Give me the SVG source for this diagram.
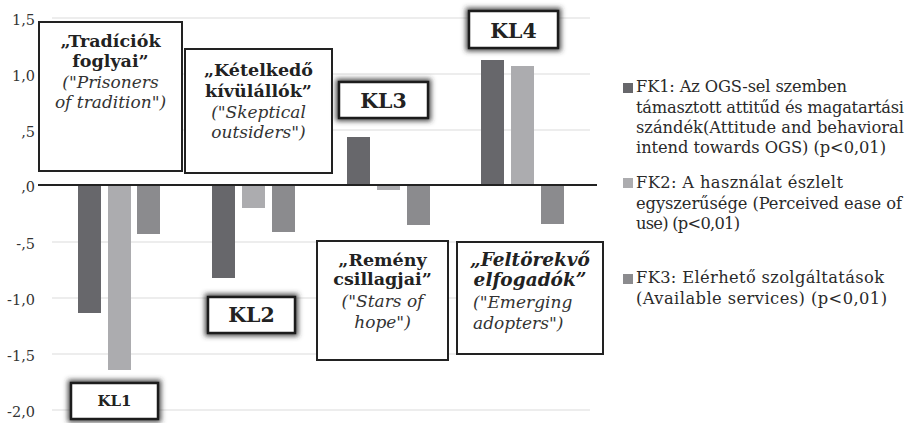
<svg xmlns="http://www.w3.org/2000/svg" width="912" height="423" viewBox="0 0 912 423">
<defs>
<style>
text{font-family:"DejaVu Serif","Liberation Serif",serif;fill:#222}
.ax{font-size:14.5px;text-anchor:end;fill:#333}
.grid{stroke:#dcdcdc;stroke-width:1.2}
.f1{fill:#67676b}.f2{fill:#acacaf}.f3{fill:#8b8b8e}
.box{fill:#fff;stroke:#222;stroke-width:2}
.kl{fill:#fff;stroke:#1a1a1a;stroke-width:2.5}
.b{font-size:17.5px;font-weight:bold;text-anchor:middle}
.bi{font-size:18.5px;font-weight:bold;font-style:italic;text-anchor:middle}
.i{font-size:17px;font-style:italic;text-anchor:middle;fill:#333}
.il{font-size:17px;font-style:italic;fill:#333}
.kt{font-size:20.5px;font-weight:bold;text-anchor:middle}
.lg{font-size:16.3px;fill:#2a2a2a}
</style>
<filter id="glow" x="-30%" y="-60%" width="160%" height="220%">
<feMorphology in="SourceAlpha" operator="dilate" radius="2" result="d"/>
<feGaussianBlur in="d" stdDeviation="2.5" result="b"/>
<feFlood flood-color="#333" flood-opacity="0.85"/>
<feComposite in2="b" operator="in" result="s"/>
<feMerge><feMergeNode in="s"/><feMergeNode in="SourceGraphic"/></feMerge>
</filter>
</defs>
<rect width="912" height="423" fill="#fff"/>

<g id="axis">
<line class="grid" x1="52" y1="18" x2="590" y2="18"/>
<line class="grid" x1="52" y1="74" x2="590" y2="74"/>
<line class="grid" x1="52" y1="130" x2="590" y2="130"/>
<line class="grid" x1="52" y1="242" x2="590" y2="242"/>
<line class="grid" x1="52" y1="298" x2="590" y2="298"/>
<line class="grid" x1="52" y1="354" x2="590" y2="354"/>
<line class="grid" x1="52" y1="410" x2="590" y2="410"/>
<text class="ax" x="35" y="25">1,5</text>
<text class="ax" x="35" y="81">1,0</text>
<text class="ax" x="35" y="137">,5</text>
<text class="ax" x="35" y="192">,0</text>
<text class="ax" x="35" y="249">-,5</text>
<text class="ax" x="35" y="305">-1,0</text>
<text class="ax" x="35" y="361">-1,5</text>
<text class="ax" x="35" y="417">-2,0</text>
</g>

<g id="bars">
<rect class="f1" x="78" y="185" width="23" height="128"/>
<rect class="f2" x="108" y="185" width="23" height="185"/>
<rect class="f3" x="137" y="185" width="23" height="49"/>
<rect class="f1" x="212" y="185" width="23" height="93"/>
<rect class="f2" x="242" y="185" width="23" height="23"/>
<rect class="f3" x="272" y="185" width="23" height="47"/>
<rect class="f1" x="347" y="137" width="23" height="48"/>
<rect class="f2" x="377" y="185" width="23" height="5"/>
<rect class="f3" x="407" y="185" width="23" height="40"/>
<rect class="f1" x="481" y="60" width="23" height="125"/>
<rect class="f2" x="511" y="66" width="23" height="119"/>
<rect class="f3" x="541" y="185" width="23" height="39"/>
</g>

<g id="connectors">
<line x1="38" y1="185" x2="597" y2="185" stroke="#222" stroke-width="2"/>
</g>

<g id="box-tradiciok">
<rect class="box" x="39" y="22" width="143" height="149"/>
<text class="b" x="110.5" y="47">„Tradíciók</text>
<text class="b" x="110.5" y="67">foglyai”</text>
<text class="i" x="110.5" y="88">("Prisoners</text>
<text class="i" x="110.5" y="108">of tradition")</text>
</g>

<g id="box-ketelkedo">
<rect class="box" x="185" y="49" width="147" height="124"/>
<text class="b" x="258.5" y="76">„Kételkedő</text>
<text class="b" x="258.5" y="97">kívülállók”</text>
<text class="i" x="258.5" y="118">("Skeptical</text>
<text class="i" x="258.5" y="138">outsiders")</text>
</g>

<g id="box-remeny">
<rect class="box" x="317" y="241" width="131" height="119"/>
<text class="b" x="382.5" y="266">„Remény</text>
<text class="b" x="382.5" y="285">csillagjai”</text>
<text class="i" x="382.5" y="307">("Stars of</text>
<text class="i" x="382.5" y="328">hope")</text>
</g>

<g id="box-feltorekvo">
<rect class="box" x="457" y="242" width="146" height="112"/>
<text class="bi" x="530" y="266">„Feltörekvő</text>
<text class="bi" x="530" y="286">elfogadók”</text>
<text class="il" x="473" y="308">("Emerging</text>
<text class="il" x="473" y="329">adopters")</text>
</g>

<g id="kl1">
<rect class="kl" x="71" y="383" width="87" height="36" filter="url(#glow)"/>
<text class="kt" x="114.5" y="406" style="font-size:15px">KL1</text>
</g>
<g id="kl2">
<rect class="kl" x="208" y="297" width="87" height="36" filter="url(#glow)"/>
<text class="kt" x="251.5" y="322">KL2</text>
</g>
<g id="kl3">
<rect class="kl" x="339" y="82" width="89" height="36" filter="url(#glow)"/>
<text class="kt" x="383.5" y="108">KL3</text>
</g>
<g id="kl4">
<rect class="kl" x="469" y="11" width="89" height="37" filter="url(#glow)"/>
<text class="kt" x="513.5" y="38">KL4</text>
</g>

<g id="legend">
<rect class="f1" x="623" y="83" width="10" height="10"/>
<text class="lg" x="636" y="92" textLength="211">FK1: Az OGS-sel szemben</text>
<text class="lg" x="636" y="113" textLength="268">támasztott attitűd és magatartási</text>
<text class="lg" x="636" y="133" textLength="268">szándék(Attitude and behavioral</text>
<text class="lg" x="636" y="153" textLength="250">intend towards OGS) (p&lt;0,01)</text>
<rect class="f2" x="623" y="178" width="10" height="10"/>
<text class="lg" x="636" y="188" textLength="207">FK2: A használat észlelt</text>
<text class="lg" x="636" y="208.5" textLength="266">egyszerűsége (Perceived ease of</text>
<text class="lg" x="636" y="229" textLength="104">use) (p&lt;0,01)</text>
<rect class="f3" x="623" y="274" width="10" height="10"/>
<text class="lg" x="636" y="283" textLength="248">FK3: Elérhető szolgáltatások</text>
<text class="lg" x="636" y="303.5" textLength="251">(Available services) (p&lt;0,01)</text>
</g>
</svg>
